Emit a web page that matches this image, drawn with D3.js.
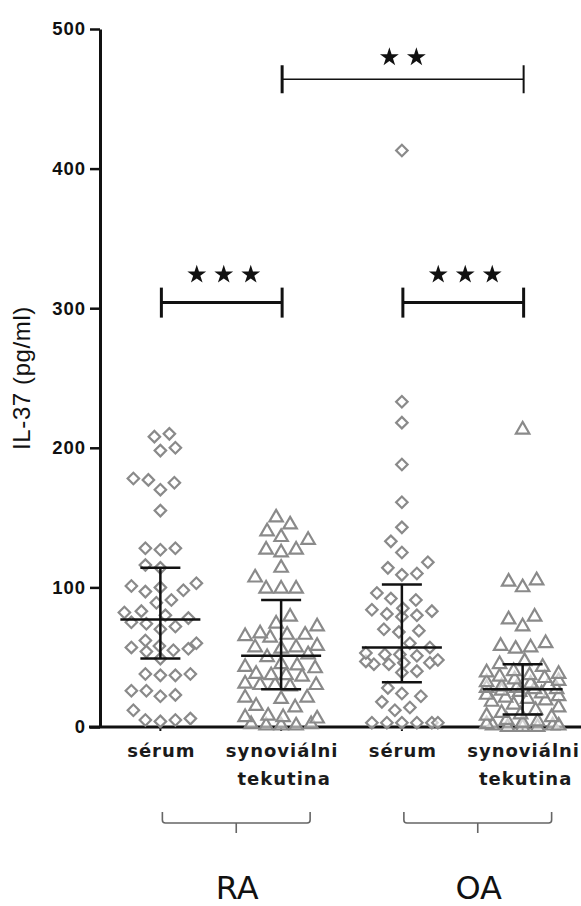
<!DOCTYPE html>
<html>
<head>
<meta charset="utf-8">
<script src="https://cdn.jsdelivr.net/npm/d3@7"></script>
<style>
  body { margin: 0; background: #fff; }
  svg { display: block; }
</style>
</head>
<body>
<div id="chart-area"></div>
<script>
/*
*    IL-37 dot plot
*/

// categories
var categories = ["RA sérum", "RA synoviální tekutina", "OA sérum", "OA synoviální tekutina"];
var catLabels = [["sérum"], ["synoviálni", "tekutina"], ["sérum"], ["synoviálni", "tekutina"]];
var groupNames = ["RA", "OA"];
var groupCats = [[0, 1], [2, 3]];
var yTicks = [0, 100, 200, 300, 400, 500];

// values (pg/ml)
var raSerum = [208, 198, 200, 210, 178, 175, 170, 177, 155, 128, 128, 127, 116, 114, 103, 100, 98, 101, 97, 91,
               89, 83, 80, 82, 78, 74, 72, 70, 75, 60, 57, 55, 56, 54, 58, 62, 49, 37, 37, 38,
               38, 22, 26, 23, 26, 12, 4, 5, 5, 6];
var raSynov = [150, 145, 140, 134, 136, 127, 125, 127, 114, 107, 99, 99, 99, 79, 72, 74, 66, 66, 65, 67,
               64, 57, 57, 56, 58, 52, 50, 43, 44, 42, 45, 37, 37, 36, 38, 30, 30, 29, 31, 30,
               21, 21, 20, 15, 14, 7, 7, 6, 8, 1, 1, 2, 1, 2];
var oaSerum = [413, 233, 218, 188, 161, 143, 133, 125, 118, 114, 109, 110, 96, 91, 92, 84, 85, 83, 80, 81,
               79, 69, 70, 68, 60, 57, 52, 53, 52, 51, 46, 47, 45, 46, 48, 45, 39, 40, 28, 24,
               22, 18, 14, 12, 3, 3, 3, 3, 3, 3];
var oaSynov = [213, 105, 100, 104, 79, 72, 77, 60, 56, 58, 57, 47, 43, 45, 40, 39, 38, 37, 36, 35,
               34, 33, 32, 31, 30, 29, 28, 28, 27, 27, 26, 25, 24, 23, 22, 21, 20, 19, 18, 16,
               14, 12, 10, 9, 8, 7, 5, 4, 3, 2, 1, 1, 0, 0, 0, 1];
var seriesValues = [raSerum, raSynov, oaSerum, oaSynov];

// median and interquartile range
var medians = [77, 51, 57, 27];
var q1 = [49, 27, 32, 9];
var q3 = [114, 91, 102, 45];

// significance brackets
var sigFrom = [0, 2, 1];
var sigTo = [1, 3, 3];
var sigLevel = [304, 304, 464];
var sigStars = [3, 3, 2];

var width = 581;
var height = 906;
var fontBold = "'Liberation Sans', Arial, sans-serif";
var fontVerd = "'DejaVu Sans', Verdana, sans-serif";
var pointColor = "#8a8a8a";

var svg = d3.select("#chart-area").append("svg").attr("width", width).attr("height", height);

var x = d3.scaleBand().domain(d3.range(categories.length)).range([100, 583]);
var y = d3.scaleLinear().domain([0, 500]).range([727, 29]);
function cx(i) { return x(i) + x.bandwidth() / 2; }

// y axis
var yAxis = d3.axisLeft(y).tickValues(yTicks).tickSizeInner(10).tickSizeOuter(0).tickPadding(4);
var yAxisGroup = svg.append("g").attr("transform", "translate(100,0)").call(yAxis);
yAxisGroup.select(".domain").attr("stroke", "#111").attr("stroke-width", 3);
yAxisGroup.selectAll(".tick line").attr("stroke", "#111").attr("stroke-width", 2.5);
yAxisGroup.selectAll(".tick text").attr("font-family", fontBold).attr("font-weight", "bold")
    .attr("font-size", "18.5px").attr("letter-spacing", "1px").attr("fill", "#111");

svg.append("text").attr("transform", "translate(30," + y(250) + ") rotate(-90)")
    .attr("text-anchor", "middle").attr("font-family", fontBold).attr("font-size", "24px")
    .attr("letter-spacing", "0.6px").attr("fill", "#111").text("IL-37 (pg/ml)");

// x axis
var xAxis = d3.axisBottom(x).tickSizeInner(4).tickSizeOuter(0).tickFormat("");
var xAxisGroup = svg.append("g").attr("transform", "translate(0," + y(0) + ")").call(xAxis);
xAxisGroup.select(".domain").remove();
xAxisGroup.selectAll(".tick line").attr("stroke", "#111").attr("stroke-width", 2);
xAxisGroup.append("line").attr("x1", 89).attr("x2", width).attr("y1", 0).attr("y2", 0)
    .attr("stroke", "#111").attr("stroke-width", 3);

// swarm offsets
function swarm(values, dist, maxW) {
    var pts = values.map(function(v) { return {v: v, y: y(v), dx: 0}; })
                    .sort(function(a, b) { return b.y - a.y; });
    var placed = [];
    var side = 1;
    pts.forEach(function(p) {
        var cands = [0];
        for (var k = 1; k <= maxW; k++) { cands.push(k * side, -k * side); }
        var best = null, bestCost = Infinity;
        cands.forEach(function(c) {
            var cost = 0;
            placed.forEach(function(q) {
                var dy = q.y - p.y;
                if (Math.abs(dy) < dist) {
                    var d = Math.sqrt(dy * dy + (q.dx - c) * (q.dx - c));
                    if (d < dist) cost += dist - d;
                }
            });
            if (cost < bestCost - 1e-6) { bestCost = cost; best = c; }
        });
        p.dx = best;
        if (best !== 0) side = best > 0 ? -1 : 1;
        placed.push(p);
    });
    return pts;
}

var diamond = d3.symbol().type(d3.symbolSquare).size(66);
var triangle = d3.symbol().type(d3.symbolTriangle).size(78);

seriesValues.forEach(function(vals, i) {
    var isTri = i % 2 === 1;
    var pts = swarm(vals, isTri ? 15 : 15, 36);
    svg.append("g").selectAll("path").data(pts).enter().append("path")
        .attr("d", isTri ? triangle : diamond)
        .attr("transform", function(d) {
            return "translate(" + (cx(i) + d.dx) + "," + d.y + ")" + (isTri ? "" : " rotate(45)");
        })
        .attr("fill", "#fff").attr("fill-opacity", 0.6)
        .attr("stroke", pointColor).attr("stroke-width", 2.2);
});

// median with interquartile range
var stats = svg.append("g").attr("stroke", "#111").attr("stroke-width", 2.5);
categories.forEach(function(c, i) {
    var xc = cx(i);
    stats.append("line").attr("x1", xc - 40).attr("x2", xc + 40).attr("y1", y(medians[i])).attr("y2", y(medians[i]));
    stats.append("line").attr("x1", xc).attr("x2", xc).attr("y1", y(q1[i])).attr("y2", y(q3[i]));
    stats.append("line").attr("x1", xc - 20).attr("x2", xc + 20).attr("y1", y(q1[i])).attr("y2", y(q1[i]));
    stats.append("line").attr("x1", xc - 20).attr("x2", xc + 20).attr("y1", y(q3[i])).attr("y2", y(q3[i]));
});

// significance
var star = d3.symbol().type(d3.symbolStar).size(110);
sigFrom.forEach(function(f, k) {
    var x1 = cx(f) + 1, x2 = cx(sigTo[k]) + 1, yl = y(sigLevel[k]);
    var thick = sigStars[k] === 3;
    var tick = thick ? 15 : 14;
    var g = svg.append("g").attr("stroke", "#111").attr("stroke-width", thick ? 3 : 1.6);
    g.append("line").attr("x1", x1).attr("x2", x2).attr("y1", yl).attr("y2", yl);
    g.append("line").attr("x1", x1).attr("x2", x1).attr("y1", yl - tick).attr("y2", yl + tick).attr("stroke-width", 3);
    g.append("line").attr("x1", x2).attr("x2", x2).attr("y1", yl - tick).attr("y2", yl + tick).attr("stroke-width", thick ? 3 : 2);
    var mid = (x1 + x2) / 2 + (thick ? 2 : 0);
    var sy = yl - (thick ? 29 : 23);
    d3.range(sigStars[k]).forEach(function(s) {
        svg.append("path").attr("d", star)
            .attr("transform", "translate(" + (mid + (s - (sigStars[k] - 1) / 2) * 27) + "," + (sy + 1) + ")")
            .attr("fill", "#111");
    });
});

// category labels
catLabels.forEach(function(lines, i) {
    var t = svg.append("text").attr("text-anchor", "middle").attr("font-family", fontVerd)
        .attr("font-weight", "bold").attr("font-size", "18px").attr("letter-spacing", "1px").attr("fill", "#1a1a1a");
    lines.forEach(function(l, j) {
        t.append("tspan").attr("x", cx(i) + 1 + j * 2).attr("y", 757 + j * 28).text(l);
    });
});

// group braces and names
groupCats.forEach(function(cats, g) {
    var xa = cx(cats[0]) + 2, xb = cx(cats[cats.length - 1]) + 29, xm = (xa + xb) / 2;
    svg.append("path")
        .attr("d", "M" + xa + ",812 V820 Q" + xa + ",823 " + (xa + 3) + ",823 H" + (xb - 3) +
                   " Q" + xb + ",823 " + xb + ",820 V812 M" + xm + ",823 V833")
        .attr("fill", "none").attr("stroke", "#666").attr("stroke-width", 1.6);
    svg.append("text").attr("x", xm + 1).attr("y", 899).attr("text-anchor", "middle")
        .attr("font-family", fontVerd).attr("font-size", "32px").attr("fill", "#111").text(groupNames[g]);
});
</script>
</body>
</html>
